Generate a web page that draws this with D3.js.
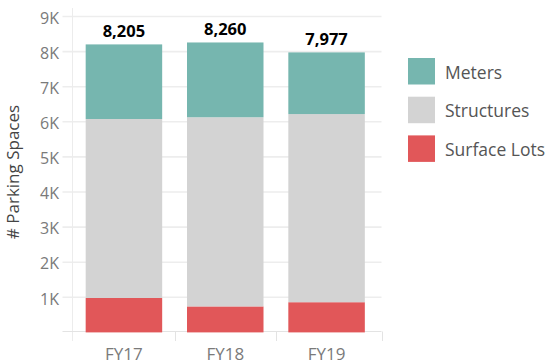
<!DOCTYPE html>
<html>
<head>
<meta charset="utf-8">
<script src="https://cdn.jsdelivr.net/npm/d3@7"></script>
<style>
  html, body { margin: 0; padding: 0; background: #fff; }
  svg { display: block; font-family: "Open Sans", "Noto Sans", sans-serif; }
</style>
</head>
<body>
<svg id="chart" width="547" height="364"></svg>
<script>
// Parking spaces by fiscal year, stacked by facility type
const years = ["FY17", "FY18", "FY19"];
const surfaceLots = [980, 740, 860];
const structures = [5100, 5390, 5360];
const meters = [2125, 2130, 1757];
const totals = [8205, 8260, 7977];
const seriesNames = ["Surface Lots", "Structures", "Meters"];
const seriesColors = ["#E15759", "#D3D3D3", "#76B6AF"];
const legendOrder = ["Meters", "Structures", "Surface Lots"];
const yTicks = [1000, 2000, 3000, 4000, 5000, 6000, 7000, 8000, 9000];

const svg = d3.select("#chart");
const plot = { left: 72.5, right: 381.5, top: 16.5, bottom: 332.4 };

const rows = years.map((y, i) => ({
  year: y,
  "Surface Lots": surfaceLots[i],
  "Structures": structures[i],
  "Meters": meters[i],
  total: totals[i]
}));

const x = d3.scaleBand().domain(years).range([plot.left, 378]).paddingInner(0.245).paddingOuter(0.13);
const y = d3.scaleLinear().domain([0, 9000]).range([plot.bottom, plot.top]);
const color = d3.scaleOrdinal().domain(seriesNames).range(seriesColors);

// horizontal gridlines
svg.append("g").selectAll("line").data(yTicks).join("line")
  .attr("x1", 62.5).attr("x2", plot.right)
  .attr("y1", d => y(d)).attr("y2", d => y(d))
  .attr("stroke", "#ededed").attr("stroke-width", 1.6);

// y tick labels
svg.append("g").selectAll("text").data(yTicks).join("text")
  .attr("x", 59).attr("y", d => y(d) + 1.5)
  .attr("dy", "0.36em").attr("text-anchor", "end")
  .attr("font-size", 16).attr("fill", "#7a7a7a")
  .text(d => d3.format("d")(d / 1000) + "K");

// axis lines
svg.append("line").attr("x1", plot.left).attr("x2", plot.left)
  .attr("y1", 8).attr("y2", 341).attr("stroke", "#ececec").attr("stroke-width", 1);
svg.append("line").attr("x1", 62.5).attr("x2", plot.right)
  .attr("y1", 331.5).attr("y2", 331.5).attr("stroke", "#e3e3e3").attr("stroke-width", 1);

// x tick separators between categories
const step = x.step();
const sepXs = years.map(yr => x(yr) - (step - x.bandwidth()) / 2).concat([plot.right]);
svg.append("g").selectAll("line").data(sepXs.slice(1)).join("line")
  .attr("x1", d => Math.round(d) + 0.5).attr("x2", d => Math.round(d) + 0.5)
  .attr("y1", 331.5).attr("y2", 341)
  .attr("stroke", "#e3e3e3");

// stacked bars
const stack = d3.stack().keys(seriesNames);
const layers = stack(rows);
svg.append("g").selectAll("g").data(layers).join("g")
  .attr("fill", d => color(d.key))
  .selectAll("rect").data(d => d).join("rect")
  .attr("x", d => x(d.data.year))
  .attr("width", x.bandwidth())
  .attr("y", d => y(d[1]))
  .attr("height", d => y(d[0]) - y(d[1]));

// total labels
svg.append("g").selectAll("text").data(rows).join("text")
  .attr("x", d => x(d.year) + x.bandwidth() / 2)
  .attr("y", d => y(d.total) - 7)
  .attr("text-anchor", "middle")
  .attr("font-size", 16.5).attr("font-weight", "bold").attr("fill", "#000")
  .text(d => d3.format(",")(d.total));

// x labels
svg.append("g").selectAll("text").data(years).join("text")
  .attr("x", d => x(d) + x.bandwidth() / 2)
  .attr("y", 360)
  .attr("text-anchor", "middle")
  .attr("font-size", 17).attr("fill", "#7a7a7a")
  .text(d => d);

// y axis title
svg.append("text")
  .attr("transform", "translate(19,172) rotate(-90)")
  .attr("text-anchor", "middle")
  .attr("font-size", 17).attr("fill", "#444")
  .text("# Parking Spaces");

// legend
const legend = svg.append("g").attr("transform", "translate(408,58)");
const li = legend.selectAll("g").data(legendOrder).join("g")
  .attr("transform", (d, i) => `translate(0,${i * 38.7})`);
li.append("rect").attr("width", 27).attr("height", 26.5).attr("fill", d => color(d));
li.append("text").attr("x", 37).attr("y", 14.5).attr("dy", "0.36em")
  .attr("font-size", 17.5).attr("fill", "#555").text(d => d);
</script>
</body>
</html>
